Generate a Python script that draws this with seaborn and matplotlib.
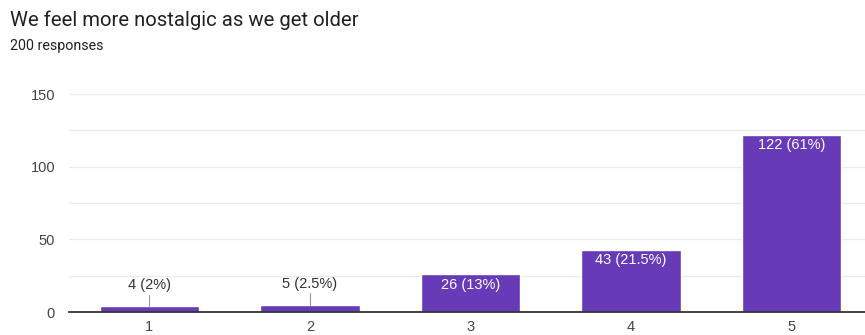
import numpy as np
import pandas as pd
import seaborn as sns
import matplotlib
matplotlib.use('agg')
import matplotlib.pyplot as plt

title = 'We feel more nostalgic as we get older'
subtitle = '200 responses'
categories = ['1', '2', '3', '4', '5']
counts = [4, 5, 26, 43, 122]
labels = ['4 (2%)', '5 (2.5%)', '26 (13%)', '43 (21.5%)', '122 (61%)']

purple = '#673ab7'

sns.set_theme(style='white')
plt.rcParams['font.family'] = ['Liberation Sans', 'DejaVu Sans']

df = pd.DataFrame({'option': categories, 'count': counts})

fig = plt.figure(figsize=(8.65, 3.35), dpi=100)
ax = fig.add_axes([69 / 865, (335 - 312) / 335, 803 / 865, 218 / 335])

sns.barplot(data=df, x='option', y='count', color=purple, saturation=1,
            width=0.62, ax=ax, zorder=3)

ax.set_xlim(-0.5, 4.5)
ax.set_ylim(0, 150)
ax.set_yticks(np.arange(0, 151, 25))
ax.set_yticklabels(['0', '', '50', '', '100', '', '150'])
ax.yaxis.grid(True, color='#ebebeb', linewidth=1, zorder=0)
ax.tick_params(axis='both', length=0, labelsize=10.5, labelcolor='#444444')
ax.tick_params(axis='y', pad=10)
ax.tick_params(axis='x', pad=5.5)
ax.set_xlabel('')
ax.set_ylabel('')
for s in ['top', 'right', 'left']:
    ax.spines[s].set_visible(False)
ax.spines['bottom'].set_color('#333333')
ax.spines['bottom'].set_linewidth(1.3)
ax.spines['bottom'].set_zorder(4)

for i, (c, lab) in enumerate(zip(counts, labels)):
    if c < 15:
        ax.plot([i, i], [c, c + 8], color='#999999', linewidth=0.8, zorder=4)
        ax.text(i, c + 9.5, lab, ha='center', va='bottom', fontsize=10.5,
                color='#333333', zorder=5)
    else:
        ax.text(i, c - 2.5, lab, ha='center', va='top', fontsize=10.5,
                color='white', zorder=5)

fig.text(10 / 865, 1 - 20 / 335, title, fontsize=14.6, color='#202124',
         va='center', ha='left', family=['Roboto', 'DejaVu Sans'])
fig.text(10 / 865, 1 - 46 / 335, subtitle, fontsize=10.3, color='#202124',
         va='center', ha='left', family=['Roboto', 'DejaVu Sans'])

fig.savefig('out.png', dpi=100)
